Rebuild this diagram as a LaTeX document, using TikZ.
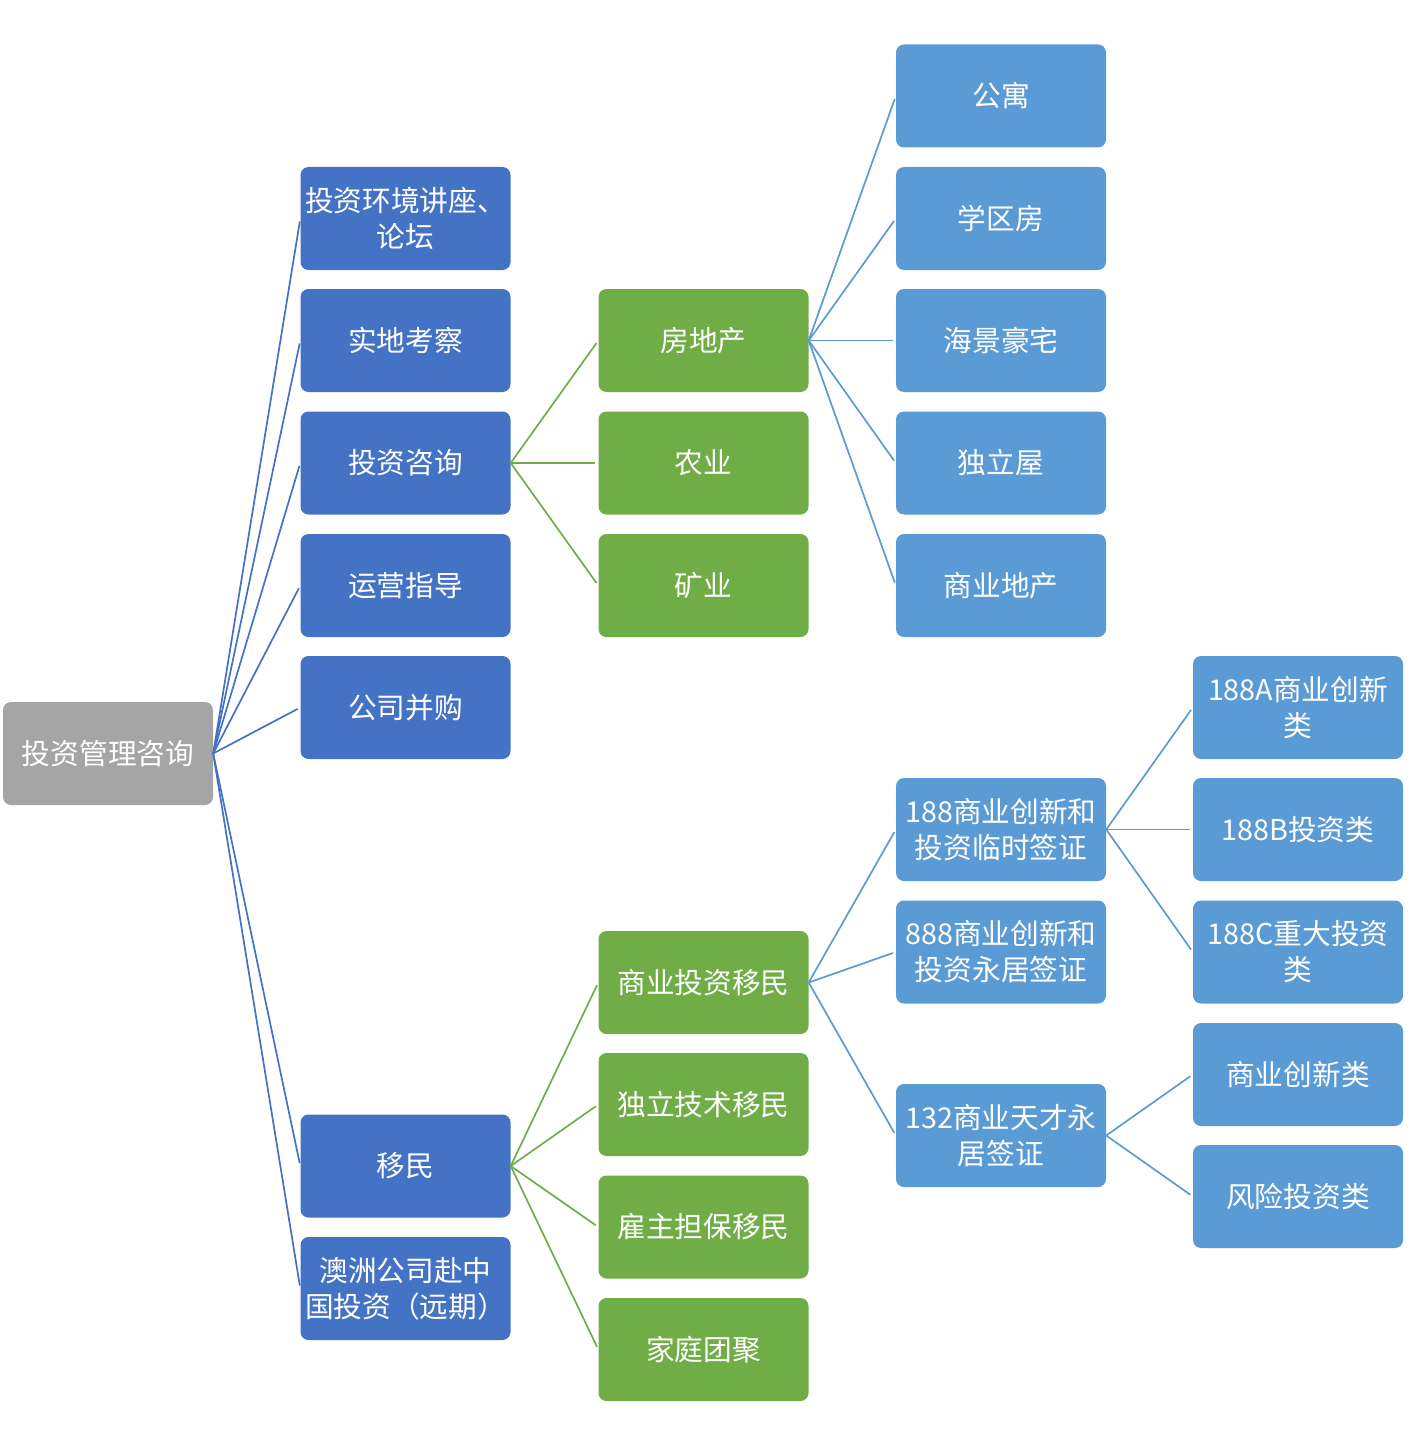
\documentclass[tikz,border=0pt]{standalone}
\usepackage{fontspec}
\setmainfont{Noto Sans CJK SC}
\definecolor{cgray}{HTML}{A5A5A5}
\definecolor{cblue}{HTML}{4472C4}
\definecolor{cgreen}{HTML}{70AD47}
\definecolor{clight}{HTML}{5B9BD5}
\begin{document}
\begin{tikzpicture}[x=1pt,y=-1pt,
  box/.style={rounded corners=8pt, minimum width=210pt, minimum height=103pt, text=white,
    font=\fontsize{28.7}{36}\selectfont, align=center, inner sep=0pt},
  root/.style={box, fill=cgray},
  lone/.style={box, fill=cblue},
  ltwo/.style={box, fill=cgreen},
  lthree/.style={box, fill=clight},
  conn/.style={line width=1.7pt, shorten >=3pt}]
\useasboundingbox (0,0) rectangle (1410,1447);
% root
\node[root] (r) at (108,753.5) {投资管理咨询};
% level 1
\node[lone] (a1) at (405.5,218.5) {投资环境讲座、\\论坛};
\node[lone] (a2) at (405.5,340.5) {实地考察};
\node[lone] (a3) at (405.5,463) {投资咨询};
\node[lone] (a4) at (405.5,585.5) {运营指导};
\node[lone] (a5) at (405.5,707.5) {公司并购};
\node[lone] (a6) at (405.5,1166) {移民};
\node[lone] (a7) at (405.5,1288.5) {澳洲公司赴中\\国投资（远期）};
% level 2
\node[ltwo] (b1) at (703.5,340.5) {房地产};
\node[ltwo] (b2) at (703.5,463) {农业};
\node[ltwo] (b3) at (703.5,585.5) {矿业};
\node[ltwo] (b4) at (703.5,982.5) {商业投资移民};
\node[ltwo] (b5) at (703.5,1104.5) {独立技术移民};
\node[ltwo] (b6) at (703.5,1227) {雇主担保移民};
\node[ltwo] (b7) at (703.5,1349.5) {家庭团聚};
% level 3
\node[lthree] (c1) at (1001,96) {公寓};
\node[lthree] (c2) at (1001,218.5) {学区房};
\node[lthree] (c3) at (1001,340.5) {海景豪宅};
\node[lthree] (c4) at (1001,463) {独立屋};
\node[lthree] (c5) at (1001,585.5) {商业地产};
\node[lthree] (c6) at (1001,829.5) {188商业创新和\\投资临时签证};
\node[lthree] (c7) at (1001,952) {888商业创新和\\投资永居签证};
\node[lthree] (c8) at (1001,1135.5) {132商业天才永\\居签证};
% level 4
\node[lthree] (d1) at (1298,707.5) {188A商业创新\\类};
\node[lthree] (d2) at (1298,829.5) {188B投资类};
\node[lthree] (d3) at (1298,952) {188C重大投资\\类};
\node[lthree] (d4) at (1298,1074.5) {商业创新类};
\node[lthree] (d5) at (1298,1196.5) {风险投资类};
% connectors
\foreach \t in {a1,a2,a3,a4,a5,a6,a7}
  \draw[conn, cblue] (r.east) -- (\t.west);
\foreach \t in {b1,b2,b3}
  \draw[conn, cgreen] (a3.east) -- (\t.west);
\foreach \t in {b4,b5,b6,b7}
  \draw[conn, cgreen] (a6.east) -- (\t.west);
\foreach \t in {c1,c2,c3,c4,c5}
  \draw[conn, clight] (b1.east) -- (\t.west);
\foreach \t in {c6,c7,c8}
  \draw[conn, clight] (b4.east) -- (\t.west);
\foreach \t in {d1,d2,d3}
  \draw[conn, clight] (c6.east) -- (\t.west);
\foreach \t in {d4,d5}
  \draw[conn, clight] (c8.east) -- (\t.west);
\end{tikzpicture}
\end{document}
